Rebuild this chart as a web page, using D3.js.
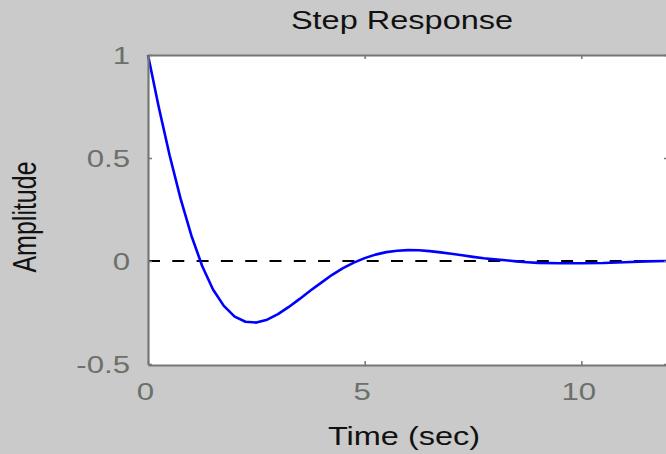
<!DOCTYPE html>
<html>
<head>
<meta charset="utf-8">
<script src="https://cdn.jsdelivr.net/npm/d3@7"></script>
<style>
  html, body { margin: 0; padding: 0; background: #c9cac9; }
  svg { display: block; }
  text { font-family: "Liberation Sans", Arial, Helvetica, sans-serif; }
</style>
</head>
<body>
<svg id="chart" width="666" height="454"></svg>
<script>
// Step response samples (time in seconds, amplitude)
const timeSec = [
  0, 0.25, 0.5, 0.75, 1, 1.25, 1.5, 1.75, 2, 2.25, 2.5, 2.75, 3, 3.25, 3.5, 3.75,
  4, 4.25, 4.5, 4.75, 5, 5.25, 5.5, 5.75, 6, 6.25, 6.5, 6.75, 7, 7.25, 7.5, 7.75,
  8, 8.25, 8.5, 8.75, 9, 9.5, 10, 10.5, 11, 11.5, 12
];
const amplitude = [
  1.000, 0.745, 0.512, 0.304, 0.124, -0.024, -0.138, -0.218, -0.270, -0.295, -0.299, -0.285, -0.258, -0.223, -0.184, -0.143,
  -0.105, -0.067, -0.035, -0.008, 0.014, 0.031, 0.043, 0.050, 0.053, 0.052, 0.048, 0.042, 0.035, 0.028, 0.020, 0.013,
  0.008, 0.004, -0.002, -0.006, -0.009, -0.011, -0.011, -0.010, -0.006, -0.002, 0.000
];
const steadyState = [0];
const xTicks = [0, 5, 10];
const xTickLabels = ["0", "5", "10"];
const yTicks = [1, 0.5, 0, -0.5];
const yTickLabels = ["1", "0.5", "0", "-0.5"];
const titleText = "Step Response";
const xLabelText = "Time (sec)";
const yLabelText = "Amplitude";

const svg = d3.select("#chart");
const SX = 1.3;               // horizontal glyph stretch
const plot = { left: 148, right: 668, top: 55, bottom: 365 };

const x = d3.scaleLinear().domain([0, 12]).range([plot.left, plot.right]);
const y = d3.scaleLinear().domain([-0.5, 1]).range([plot.bottom - 1, plot.top]);

const axisColor = "#737873";
const tickTextColor = "#6b706b";

// plot background
svg.append("rect")
  .attr("x", plot.left).attr("y", plot.top)
  .attr("width", plot.right - plot.left).attr("height", plot.bottom - plot.top)
  .attr("fill", "#ffffff");

// steady-state reference line
svg.append("g").selectAll("line").data(steadyState).join("line")
  .attr("x1", x(0)).attr("x2", x(12))
  .attr("y1", d => y(d)).attr("y2", d => y(d))
  .attr("stroke", "#000").attr("stroke-width", 2)
  .attr("stroke-dasharray", "12,12.3");

// response curve
const pts = timeSec.map((t, i) => [t, amplitude[i]]);
svg.append("path")
  .datum(pts)
  .attr("fill", "none")
  .attr("stroke", "#0000ff")
  .attr("stroke-width", 2.6)
  .attr("stroke-linejoin", "round")
  .attr("d", d3.line().x(d => x(d[0])).y(d => y(d[1])));

function styleAxis(g) {
  g.select(".domain").attr("stroke", axisColor).attr("stroke-width", 2.2);
  g.selectAll(".tick line").attr("stroke", axisColor).attr("stroke-width", 1.5);
  g.selectAll("text").remove();
}

// bottom axis with labels
const gB = svg.append("g").attr("transform", `translate(0,${plot.bottom})`)
  .call(d3.axisBottom(x).tickValues(xTicks).tickSizeInner(-4).tickSizeOuter(0));
styleAxis(gB);
gB.selectAll(".tick").append("text")
  .attr("transform", "translate(-3,35) scale(" + SX + ",1)")
  .attr("text-anchor", "middle")
  .attr("font-size", 24)
  .attr("fill", tickTextColor)
  .text((d, i) => xTickLabels[i]);

// top axis (ticks only)
const gT = svg.append("g").attr("transform", `translate(0,${plot.top})`)
  .call(d3.axisTop(x).tickValues(xTicks).tickSizeInner(-4).tickSizeOuter(0));
styleAxis(gT);

// left axis with labels
const gL = svg.append("g").attr("transform", `translate(${plot.left},0)`)
  .call(d3.axisLeft(y).tickValues(yTicks).tickSizeInner(-4).tickSizeOuter(0));
styleAxis(gL);
gL.selectAll(".tick").append("text")
  .attr("transform", "translate(-18,8.5) scale(" + SX + ",1)")
  .attr("text-anchor", "end")
  .attr("font-size", 24)
  .attr("fill", tickTextColor)
  .text((d, i) => yTickLabels[i]);

// right axis (ticks only)
const gR = svg.append("g").attr("transform", `translate(${plot.right},0)`)
  .call(d3.axisRight(y).tickValues(yTicks).tickSizeInner(-4).tickSizeOuter(0));
styleAxis(gR);

// title
svg.append("text")
  .attr("transform", "translate(402,29) scale(" + SX + ",1)")
  .attr("text-anchor", "middle")
  .attr("font-size", 25)
  .attr("fill", "#111")
  .text(titleText);

// x label
svg.append("text")
  .attr("transform", "translate(404,445) scale(" + SX + ",1)")
  .attr("text-anchor", "middle")
  .attr("font-size", 25)
  .attr("fill", "#111")
  .text(xLabelText);

// y label
svg.append("text")
  .attr("transform", "translate(36,217) scale(" + SX + ",1) rotate(-90)")
  .attr("text-anchor", "middle")
  .attr("font-size", 25)
  .attr("fill", "#111")
  .text(yLabelText);
</script>
</body>
</html>
